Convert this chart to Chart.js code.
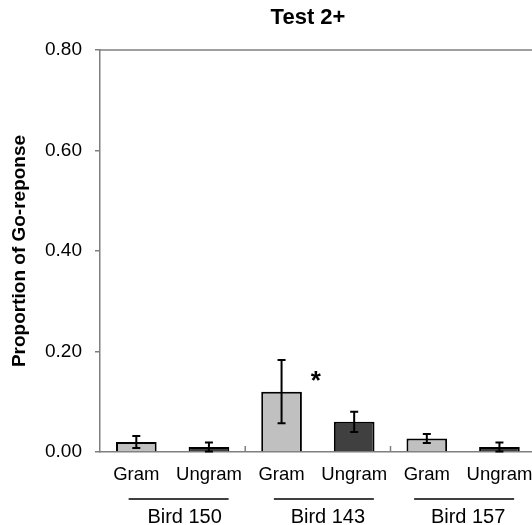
<!DOCTYPE html>
<html>
<head>
<meta charset="utf-8">
<script src="https://cdn.jsdelivr.net/npm/chart.js@4.4.1/dist/chart.umd.min.js"></script>
<style>
  html, body { margin: 0; padding: 0; background: #fff; overflow: hidden; }
  #wrap { width: 545px; height: 525px; }
</style>
</head>
<body>
<div id="wrap"><canvas id="grafico" width="545" height="525"></canvas></div>
<script>
// datos
const categorias = ['Gram', 'Ungram', 'Gram', 'Ungram', 'Gram', 'Ungram'];
const grupos = ['Bird 150', 'Bird 143', 'Bird 157'];
const valores = [0.020, 0.010, 0.120, 0.060, 0.027, 0.010];
const errores = [0.012, 0.009, 0.063, 0.020, 0.009, 0.009];
const ticksY = [0, 0.2, 0.4, 0.6, 0.8];
const titulo = 'Test 2+';
const tituloY = 'Proportion of Go-reponse';
const marcaSignif = { texto: '*', posicion: 2.47, valor: 0.15 };

const colores = categorias.map(c => c === 'Gram' ? '#c0c0c0' : '#404040');
const FUENTE = 'Arial, "Liberation Sans", sans-serif';

const extras = {
    id: 'extras',
    afterDatasetsDraw(chart) {
        const ctx = chart.ctx;
        const xs = chart.scales.x;
        const ys = chart.scales.y;
        const area = chart.chartArea;
        const ancho = xs.getPixelForValue(1) - xs.getPixelForValue(0);

        ctx.save();
        // linea superior
        ctx.strokeStyle = '#7f7f7f';
        ctx.lineWidth = 1.5;
        ctx.beginPath();
        ctx.moveTo(area.left, area.top);
        ctx.lineTo(chart.width, area.top);
        ctx.stroke();

        // marcas entre grupos
        for (let g = 1; g < grupos.length; g++) {
            const x = xs.getPixelForValue(g * 2) - ancho / 2;
            ctx.beginPath();
            ctx.moveTo(x, area.bottom);
            ctx.lineTo(x, area.bottom - 6);
            ctx.stroke();
        }

        // barras de error
        ctx.strokeStyle = '#000';
        ctx.lineWidth = 2;
        valores.forEach((v, i) => {
            const x = xs.getPixelForValue(i);
            const yAlto = ys.getPixelForValue(v + errores[i]);
            const yBajo = ys.getPixelForValue(Math.max(0, v - errores[i]));
            ctx.beginPath();
            ctx.moveTo(x, yAlto);
            ctx.lineTo(x, yBajo);
            ctx.moveTo(x - 4, yAlto);
            ctx.lineTo(x + 4, yAlto);
            ctx.moveTo(x - 4, yBajo);
            ctx.lineTo(x + 4, yBajo);
            ctx.stroke();
        });

        // asterisco
        ctx.fillStyle = '#000';
        ctx.font = 'bold 26px ' + FUENTE;
        ctx.textAlign = 'center';
        ctx.textBaseline = 'middle';
        const xa = xs.getPixelForValue(Math.floor(marcaSignif.posicion)) + (marcaSignif.posicion % 1) * ancho;
        ctx.fillText(marcaSignif.texto, xa, ys.getPixelForValue(marcaSignif.valor) + 5);

        // titulo
        ctx.font = 'bold 22px ' + FUENTE;
        ctx.fillText(titulo, 308, 18);

        // grupos
        const desvLinea = [6, 6, 1];
        const desvTexto = [12, 10, 5];
        ctx.font = '20px ' + FUENTE;
        ctx.lineWidth = 1.4;
        grupos.forEach((g, i) => {
            const xc = (xs.getPixelForValue(i * 2) + xs.getPixelForValue(i * 2 + 1)) / 2;
            ctx.beginPath();
            ctx.moveTo(xc + desvLinea[i] - 50, 499);
            ctx.lineTo(xc + desvLinea[i] + 50, 499);
            ctx.stroke();
            ctx.fillText(g, xc + desvTexto[i], 517);
        });
        ctx.restore();
    }
};

new Chart(document.getElementById('grafico').getContext('2d'), {
    type: 'bar',
    data: {
        labels: categorias,
        datasets: [{
            data: valores,
            backgroundColor: colores,
            borderColor: '#000',
            borderWidth: 2,
            borderSkipped: 'bottom',
            categoryPercentage: 1,
            barPercentage: 0.56
        }]
    },
    options: {
        responsive: false,
        animation: false,
        layout: { padding: { top: 50, right: 8, bottom: 0, left: 0 } },
        plugins: {
            legend: { display: false },
            tooltip: { enabled: false }
        },
        scales: {
            x: {
                grid: { display: false, drawTicks: false },
                border: { color: '#7f7f7f', width: 1.5 },
                ticks: {
                    color: '#000',
                    padding: 12,
                    autoSkip: false,
                    maxRotation: 0,
                    minRotation: 0,
                    font: { family: FUENTE, size: 18.5 }
                },
                afterFit: s => { s.height = 73; }
            },
            y: {
                min: 0,
                max: 0.8,
                afterBuildTicks: s => { s.ticks = ticksY.map(v => ({ value: v })); },
                grid: { drawOnChartArea: false, drawTicks: true, tickLength: 5, color: '#7f7f7f', lineWidth: 1.5 },
                border: { color: '#7f7f7f', width: 1.5 },
                ticks: {
                    color: '#000',
                    padding: 13,
                    font: { family: FUENTE, size: 19 },
                    callback: v => v.toFixed(2)
                },
                title: {
                    display: true,
                    text: tituloY,
                    color: '#000',
                    padding: { top: 8, bottom: 0 },
                    font: { family: FUENTE, size: 19, weight: 'bold' }
                },
                afterFit: s => { s.width = 100; }
            }
        }
    },
    plugins: [extras]
});
</script>
</body>
</html>
